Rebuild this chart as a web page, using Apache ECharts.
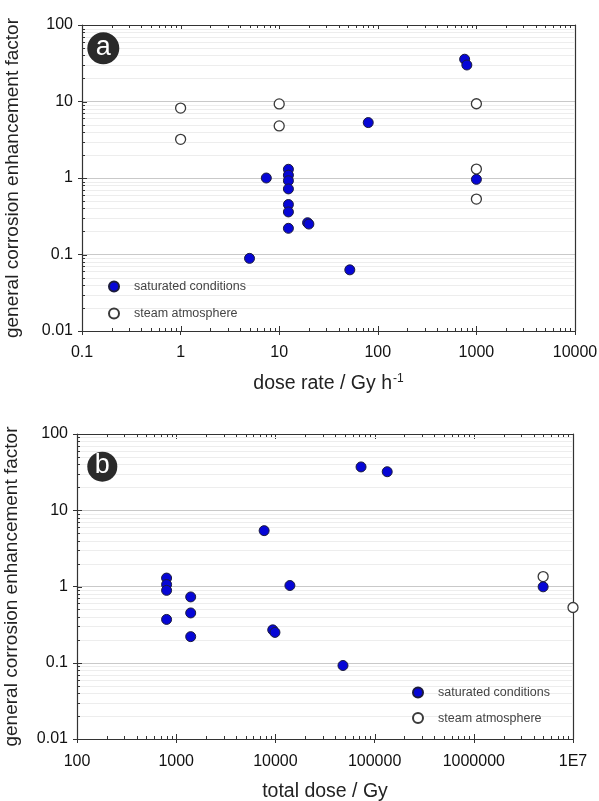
<!DOCTYPE html>
<html>
<head>
<meta charset="utf-8">
<script src="https://cdn.jsdelivr.net/npm/echarts@6/dist/echarts.min.js"></script>
<style>
  html, body { margin: 0; padding: 0; background: #fff; }
  #chart { width: 599px; height: 801px; }
</style>
</head>
<body>
<div id="chart"></div>
<script>
// Panel (a): corrosion enhancement factor against dose rate (Gy/h)
const rateSaturated = [5, 7.4, 12.4, 12.4, 12.4, 12.4, 12.4, 12.4, 12.4, 19.4, 20, 52, 80, 760, 800, 1000];
const factorRateSaturated = [0.089, 1.0, 1.30, 1.09, 0.92, 0.72, 0.45, 0.36, 0.22, 0.26, 0.25, 0.063, 5.3, 35.7, 30, 0.96];
const rateSteam = [1, 1, 10, 10, 1000, 1000, 1000];
const factorRateSteam = [8.2, 3.2, 9.3, 4.8, 9.35, 1.31, 0.53];

// Panel (b): corrosion enhancement factor against total dose (Gy)
const doseSaturated = [800, 800, 800, 800, 1400, 1400, 1400, 7700, 9400, 9900, 14000, 48000, 73000, 134000, 5000000];
const factorDoseSaturated = [1.29, 1.06, 0.89, 0.37, 0.73, 0.45, 0.22, 5.4, 0.27, 0.25, 1.03, 0.092, 37, 32, 0.99];
const doseSteam = [5000000, 10000000];
const factorDoseSteam = [1.35, 0.53];

const seriesNames = ['saturated conditions', 'steam atmosphere'];
const panelLabels = ['a', 'b'];
const rateAxisRange = [0.1, 10000];
const doseAxisRange = [100, 10000000];
const factorAxisRange = [0.01, 100];
const factorAxisTitle = 'general corrosion enhancement factor';
const rateAxisTitle = 'dose rate / Gy h{sup|-1}';
const doseAxisTitle = 'total dose / Gy';

const FONT = '"Liberation Sans", Arial, sans-serif';
const AXIS_COLOR = '#333';

function zip(xs, ys) { return xs.map((x, i) => [x, ys[i]]); }

// major (decade) and minor (2..9 x decade) tick values of a log range
function decadeTicks(min, max) {
  const major = [], minor = [];
  const e0 = Math.round(Math.log10(min)), e1 = Math.round(Math.log10(max));
  for (let e = e0; e <= e1; e++) {
    const base = Math.pow(10, e);
    major.push(base);
    if (e < e1) for (let m = 2; m <= 9; m++) minor.push(+(m * base).toPrecision(3));
  }
  return { major, minor };
}

// items for the tick / minor-grid layer: [x, y, kind]
// kind 0 = minor x tick, 1 = major x tick, 2 = minor y tick + grid line, 3 = major y tick
function frameDetails(xRange, yRange) {
  const xt = decadeTicks(xRange[0], xRange[1]);
  const yt = decadeTicks(yRange[0], yRange[1]);
  const data = [];
  xt.minor.forEach(v => data.push([v, yRange[0], 0]));
  xt.major.forEach(v => data.push([v, yRange[0], 1]));
  yt.minor.forEach(v => data.push([xRange[0], v, 2]));
  yt.major.forEach(v => data.push([xRange[0], v, 3]));
  return data;
}

function renderDetail(params, api) {
  const cs = params.coordSys;
  const kind = api.value(2);
  const p = api.coord([api.value(0), api.value(1)]);
  const tick = { stroke: AXIS_COLOR, lineWidth: 1 };
  const bottom = cs.y + cs.height;
  if (kind <= 1) {
    const len = kind === 1 ? 5 : 3;
    const x = Math.round(p[0]) + 0.5;
    return {
      type: 'group',
      children: [
        { type: 'line', shape: { x1: x, y1: bottom, x2: x, y2: bottom - len }, style: tick },
        { type: 'line', shape: { x1: x, y1: cs.y, x2: x, y2: cs.y + len }, style: tick }
      ]
    };
  }
  const y = Math.round(p[1]) + 0.5;
  const len = kind === 3 ? 5 : 3;
  const children = [];
  if (kind === 2) {
    children.push({ type: 'line', shape: { x1: cs.x + 1, y1: y, x2: cs.x + cs.width - 1, y2: y },
      style: { stroke: '#ededed', lineWidth: 1 } });
  }
  children.push({ type: 'line', shape: { x1: cs.x, y1: y, x2: cs.x + len, y2: y }, style: tick });
  return { type: 'group', children };
}

function tickLabel(v) {
  const n = +(+v).toPrecision(6);
  if (n >= 1e7) return '1E7';
  return String(n);
}

function mainXAxis(grid, range, title, labelMargin, titleGap) {
  return {
    type: 'log', logBase: 10, gridIndex: grid, position: 'bottom',
    min: range[0], max: range[1],
    axisLine: { show: true, lineStyle: { color: AXIS_COLOR, width: 1.2 } },
    axisTick: { show: true, inside: false, length: 4, lineStyle: { color: AXIS_COLOR } },
    axisLabel: { fontFamily: FONT, fontSize: 16, color: '#111', margin: labelMargin, formatter: tickLabel },
    splitLine: { show: false },
    name: title, nameLocation: 'middle', nameGap: titleGap,
    nameTextStyle: {
      fontFamily: FONT, fontSize: 19.5, color: '#222',
      rich: { sup: { fontFamily: FONT, fontSize: 12, color: '#222', verticalAlign: 'top', padding: [0, 0, 9, 1] } }
    }
  };
}

function frameXAxis(grid, range) {
  return {
    type: 'log', logBase: 10, gridIndex: grid, position: 'top',
    min: range[0], max: range[1],
    axisLine: { show: true, lineStyle: { color: AXIS_COLOR, width: 1.2 } },
    axisTick: { show: false }, axisLabel: { show: false }, splitLine: { show: false }
  };
}

function mainYAxis(grid, range, titleGap) {
  return {
    type: 'log', logBase: 10, gridIndex: grid, position: 'left',
    min: range[0], max: range[1],
    axisLine: { show: true, lineStyle: { color: AXIS_COLOR, width: 1.2 } },
    axisTick: { show: true, inside: false, length: 4, lineStyle: { color: AXIS_COLOR } },
    axisLabel: { fontFamily: FONT, fontSize: 16, color: '#111', margin: 9, formatter: tickLabel },
    splitLine: { show: true, lineStyle: { color: '#c9c9c9', width: 1 } },
    name: factorAxisTitle, nameLocation: 'middle', nameGap: titleGap, nameRotate: 90,
    nameTextStyle: { fontFamily: FONT, fontSize: 19, color: '#222' }
  };
}

function frameYAxis(grid, range) {
  return {
    type: 'log', logBase: 10, gridIndex: grid, position: 'right',
    min: range[0], max: range[1],
    axisLine: { show: true, lineStyle: { color: AXIS_COLOR, width: 1.2 } },
    axisTick: { show: false }, axisLabel: { show: false }, splitLine: { show: false }
  };
}

const steamStyle = { color: '#ffffff', borderColor: '#3a3a3a', borderWidth: 1.3, opacity: 1 };
const saturatedStyle = { color: '#0606d6', borderColor: '#1c1c3c', borderWidth: 1, opacity: 1 };

function panelSeries(axisIdx, xRange, satX, satY, steamX, steamY) {
  return [
    {
      type: 'custom', xAxisIndex: axisIdx, yAxisIndex: axisIdx,
      dimensions: ['x', 'y', 'kind'], encode: { x: 0, y: 1 },
      data: frameDetails(xRange, factorAxisRange), renderItem: renderDetail,
      silent: true, clip: false, z: 1
    },
    {
      type: 'scatter', name: seriesNames[1], xAxisIndex: axisIdx, yAxisIndex: axisIdx,
      data: zip(steamX, steamY), symbol: 'circle', symbolSize: 10,
      itemStyle: steamStyle, clip: false, z: 3
    },
    {
      type: 'scatter', name: seriesNames[0], xAxisIndex: axisIdx, yAxisIndex: axisIdx,
      data: zip(satX, satY), symbol: 'circle', symbolSize: 10,
      itemStyle: saturatedStyle, clip: false, z: 4
    }
  ];
}

function legendAt(left, top, gap) {
  return {
    data: seriesNames, orient: 'vertical', left: left, top: top,
    itemWidth: 10, itemHeight: 10, itemGap: gap, padding: 0,
    icon: 'circle', selectedMode: false,
    textStyle: { fontFamily: FONT, fontSize: 12.5, color: '#444', padding: [0, 0, 0, 10] }
  };
}

function panelBadge(cx, cy, r, label) {
  return {
    type: 'group', z: 10,
    children: [
      { type: 'circle', z: 10, shape: { cx: cx, cy: cy, r: r }, style: { fill: '#2a2a2a' } },
      { type: 'text', z: 11, x: cx, y: cy - 1,
        style: { text: label, fill: '#ffffff', fontFamily: FONT, fontSize: 27,
                 align: 'center', verticalAlign: 'middle' } }
    ]
  };
}

const chart = echarts.init(document.getElementById('chart'), null, { renderer: 'canvas' });

chart.setOption({
  animation: false,
  backgroundColor: '#ffffff',
  textStyle: { fontFamily: FONT },
  grid: [
    { left: 82, top: 25, width: 493, height: 306, containLabel: false, outerBoundsMode: 'none' },
    { left: 77, top: 434, width: 496, height: 305, containLabel: false, outerBoundsMode: 'none' }
  ],
  xAxis: [
    mainXAxis(0, rateAxisRange, rateAxisTitle, 14, 42),
    frameXAxis(0, rateAxisRange),
    mainXAxis(1, doseAxisRange, doseAxisTitle, 15, 43),
    frameXAxis(1, doseAxisRange)
  ],
  yAxis: [
    mainYAxis(0, factorAxisRange, 60),
    frameYAxis(0, factorAxisRange),
    mainYAxis(1, factorAxisRange, 56),
    frameYAxis(1, factorAxisRange)
  ],
  legend: [
    legendAt(108, 280, 14),
    legendAt(412, 686, 12.6)
  ],
  series: [
    ...panelSeries(0, rateAxisRange, rateSaturated, factorRateSaturated, rateSteam, factorRateSteam),
    ...panelSeries(2, doseAxisRange, doseSaturated, factorDoseSaturated, doseSteam, factorDoseSteam)
  ],
  graphic: [
    panelBadge(103.3, 48.3, 16, panelLabels[0]),
    panelBadge(102.3, 466.7, 15, panelLabels[1])
  ]
});
</script>
</body>
</html>
